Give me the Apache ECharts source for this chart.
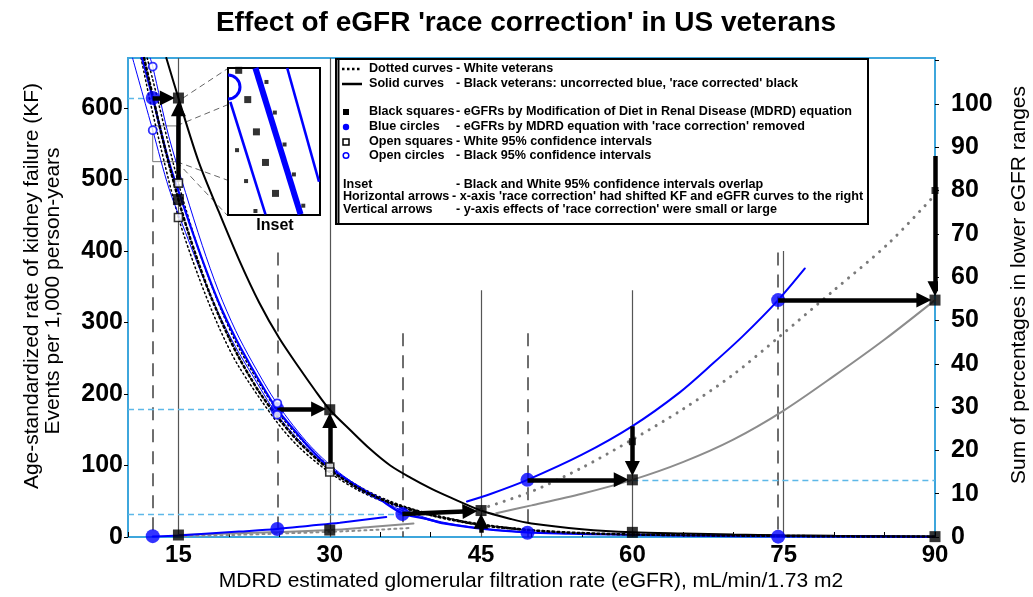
<!DOCTYPE html>
<html><head><meta charset="utf-8">
<script src="https://cdn.jsdelivr.net/npm/echarts@6/dist/echarts.min.js"></script>
<style>html,body{margin:0;padding:0;background:#fff}#c{width:1033px;height:597px}</style>
</head><body><div id="c"></div>
<script>
// ---------- tick labels ----------
const xTickLabels = [15, 30, 45, 60, 75, 90];
const leftTickLabels = [0, 100, 200, 300, 400, 500, 600];
const rightTickLabels = [0, 10, 20, 30, 40, 50, 60, 70, 80, 90, 100];

// ---------- KF rate curves (left axis, events per 1,000 person-years) ----------
const kfBlackCorrected = [[13.8,670],[15,614],[17,525],[19,455],[21,388],[23,328],[25,278],[27,236],[28.5,206],[30,178],[32,150],[34,123],[36,100],[38,83],[40,68],[42,55],[45,37],[48,25],[50,19],[55,11],[60,6.5],[65,4.8],[70,3.5],[75,2.5],[80,1.8],[90,0.8]];
const kfBlueUncorrected = [[11.4,670],[12.45,614],[14.05,525],[15.7,455],[17.36,388],[19,328],[20.66,278],[22.3,236],[23.55,206],[24.8,178],[26.45,150],[28.1,123],[29.75,100],[31.4,83],[33.06,68],[34.7,55],[37.2,33],[39.7,25],[41.3,19],[45.5,11],[49.6,6.5],[53.7,4.8],[57.9,3.5],[62,2.5],[66,1.8],[74.4,0.8],[90,0.2]];
const kfBlueUpperCI = [[12.2,670],[12.45,658],[14.05,560],[15.7,482],[17.36,408],[19,343],[20.66,289],[22.3,245],[24.8,186],[28.1,127],[31.4,85],[34.7,57],[39.7,26],[45.5,11.3],[50,6]];
const kfBlueLowerCI = [[10.45,670],[12.45,569],[14.05,488],[15.7,426],[17.36,366],[19,312],[20.66,266],[22.3,227],[24.8,171],[28.1,119],[31.4,80],[34.7,53],[39.7,24],[45.5,10.7],[50,6]];
const kfWhite = [[11.6,670],[12.45,617],[13.5,553],[15,472],[16,425],[17,383],[18,344],[19,310],[20,279],[21,251],[22,226],[23,203],[24.8,168],[27,132],[30,94],[33,67],[36,48],[40,31],[45,17],[50,9.5],[55,5.5],[60,3.5],[70,2],[80,1],[90,0.5]];
const kfWhiteUpperCI = [[11.9,670],[12.45,640],[15,495],[17,402],[19,326],[21,264],[24.8,176],[27,139],[30,98],[33,70],[36,50],[40,32],[45,18],[50,10]];
const kfWhiteLowerCI = [[11.3,670],[12.45,593],[15,447],[17,364],[19,294],[21,238],[24.8,160],[27,125],[30,90],[33,64],[36,46],[40,30],[45,16],[50,9]];

// ---------- percentage curves (right axis, %) ----------
const pctBlueLow = [[12.45,0.1],[15,0.35],[18,0.8],[21,1.25],[24.8,1.85],[28,2.6],[31,3.3],[35.6,4.6]];
const pctBlueHigh = [[43.6,8.2],[46,10],[49.6,13.2],[55,19],[60,25.6],[64.7,33.4],[68,40.1],[71,46.5],[74.45,54.7],[77.1,62]];
const pctGrayLow = [[15,0.46],[20,0.8],[25,1.15],[30,1.6],[34,2.3],[38.3,3.1]];
const pctGrayHigh = [[46.5,5.5],[50,7.3],[55,10],[60,13.2],[65,17.3],[70,22.5],[75,29.2],[80,37.2],[85,45.6],[90,54.7]];
const pctWhiteLow = [[15,0.2],[20,0.45],[25,0.8],[30,1.2],[35,1.7],[38,2.1]];
const pctWhiteHigh = [[45,6.5],[50,10.5],[55,16],[60,22.5],[65,29.5],[70,37.5],[74.6,46.3],[80,57],[85.4,67.8],[90,79]];

// ---------- markers ----------
const blueCirclesLeft = [[12.45,614],[24.8,179],[37.2,32],[49.6,6],[74.45,0.5]];
const blueCirclesRight = [[12.45,0.2],[24.8,1.85],[49.6,13.2],[74.45,54.7]];
const blackSquaresLeft = [[15,614],[30,178],[45,37],[15,472],[60,6.5],[90,0.5]];
const blackSquaresRight = [[15,0.46],[30,1.6],[60,13.2],[90,54.7]];
const smallSquaresRight = [[60,22],[90,80]];
const openSquaresLeft = [[15,495],[15,447],[30,98],[30,91]];
const openCirclesLeft = [[12.45,658],[12.45,569],[24.8,187],[24.8,171]];

// ---------- arrows ----------
const hArrowsLeft = [[[12.45,614],[13.9,614]],[[24.8,179],[28.9,179]],[[37.2,32],[43.9,36]]];
const vArrowsLeft = [[[15,497],[15,599]],[[30,98],[30,163]],[[45,6],[45,22]]];
const hArrowsRight = [[[49.6,13.2],[58.9,13.2]],[[74.45,54.7],[88.9,54.7]]];
const vArrowsRight = [[[60,25.6],[60,15.8]],[[90,88],[90,57.3]]];

// ---------- reference lines ----------
const cyanLeft = [[[10,614],[12.45,614]],[[10,179],[24.8,179]],[[10,32],[37.2,32]]];
const cyanRight = [[[60,13.2],[90,13.2]]];
const dashedVerticals = [[[12.45,520],[12.45,0]],[[24.8,398],[24.8,0]],[[37.2,285],[37.2,0]],[[49.6,285],[49.6,0]],[[74.45,398],[74.45,0]]];
const solidVerticals = [[[15,670],[15,0]],[[30,670],[30,0]],[[45,345],[45,0]],[[60,345],[60,0]],[[75,400],[75,0]]];
const insetFrame = [[12.45,575],[14.83,575],[14.83,525],[12.45,525],[12.45,575]];

// ---------- inset (magnified view, inset units) ----------
const insetThinBlue1 = [[7,102],[112,440]];
const insetThickBlue = [[82,0],[217,440]];
const insetThinBlue2 = [[177,0],[272,342]];
const insetBigDots = [[32,7],[59,95],[85,192],[112,284],[142,377]];
const insetSmallDots = [[27,247],[54,340],[82,430],[115,42],[140,134],[169,230],[197,320],[225,414]];
const insetOpenCircle = [[0,57]];

// ---------- legend text ----------
const legendRows = [
  ['Dotted curves', '- White veterans'],
  ['Solid curves', "- Black veterans: uncorrected blue, 'race corrected' black"],
  ['Black squares', '- eGFRs by Modification of Diet in Renal Disease (MDRD) equation'],
  ['Blue circles', "- eGFRs by MDRD equation with 'race correction' removed"],
  ['Open squares', '- White 95% confidence intervals'],
  ['Open circles', '- Black 95% confidence intervals'],
  ['Inset', '- Black and White 95% confidence intervals overlap'],
  ['Horizontal arrows', "- x-axis 'race correction' had shifted KF and eGFR curves to the right"],
  ['Vertical arrows', "- y-axis effects of 'race correction' were small or large"]
];

const FONT = '"Liberation Sans", Arial, Helvetica, sans-serif';
const BLUE = '#0000ff';
const CYAN = '#3ea6dc';

function curve(data, yIdx, color, width, type, z) {
  return {type:'line', xAxisIndex:0, yAxisIndex:yIdx, data:data, showSymbol:false, symbol:'none',
    smooth:0.3, lineStyle:{color:color, width:width, type:type||'solid', cap:'round'},
    z:z||3, silent:true, animation:false, clip:true};
}
function segs(list, yIdx, style, extra) {
  return Object.assign({type:'lines', coordinateSystem:'cartesian2d', xAxisIndex:0, yAxisIndex:yIdx,
    data:list.map(c => ({coords:c})), lineStyle:style, silent:true, animation:false, z:2}, extra || {});
}
function marks(data, yIdx, symbol, size, itemStyle, z, xi) {
  return {type:'scatter', xAxisIndex:xi||0, yAxisIndex:yIdx, data:data, symbol:symbol, symbolSize:size,
    itemStyle:itemStyle, z:z||6, silent:true, animation:false, clip:true};
}
function arrows(list, yIdx) {
  return segs(list, yIdx, {color:'#000', width:4.5, opacity:1}, {symbol:['none','triangle'], symbolSize:[1,15], z:7});
}

const series = [
  segs(dashedVerticals, 0, {color:'#4a4a4a', width:1.6, type:[13,9], opacity:1}),
  segs(solidVerticals, 0, {color:'#555', width:1.2, opacity:1}),
  segs(cyanLeft, 0, {color:'#5db8e8', width:1.3, type:[6,4], opacity:1}),
  segs(cyanRight, 1, {color:'#5db8e8', width:1.3, type:[6,4], opacity:1}),
  {type:'lines', coordinateSystem:'cartesian2d', xAxisIndex:0, yAxisIndex:0, polyline:true,
    data:[{coords:insetFrame}], lineStyle:{color:'#777', width:1, opacity:1}, silent:true, animation:false, z:2},
  curve(kfBlackCorrected, 0, '#000', 2),
  curve(kfWhiteUpperCI, 0, '#000', 1.5, [1.5,3]),
  curve(kfWhiteLowerCI, 0, '#000', 1.5, [1.5,3]),
  curve(kfBlueUpperCI, 0, BLUE, 1),
  curve(kfBlueLowerCI, 0, BLUE, 1),
  curve(kfBlueUncorrected, 0, BLUE, 2.2),
  curve(kfWhite, 0, '#000', 2.5, [2,3]),
  curve(pctGrayLow, 1, '#8c8c8c', 2),
  curve(pctWhiteLow, 1, '#8c8c8c', 2, [2,4]),
  curve(pctBlueLow, 1, BLUE, 2),
  curve(pctGrayHigh, 1, '#8c8c8c', 2),
  curve(pctWhiteHigh, 1, '#7a7a7a', 3, [0.1,8]),
  curve(pctBlueHigh, 1, BLUE, 2),
  arrows(hArrowsLeft, 0),
  arrows(vArrowsLeft, 0),
  arrows(hArrowsRight, 1),
  arrows(vArrowsRight, 1),
  marks(blueCirclesLeft, 0, 'circle', 14, {color:BLUE}),
  marks(blueCirclesRight, 1, 'circle', 14, {color:BLUE}),
  marks(blackSquaresLeft, 0, 'rect', 11, {color:'#000'}),
  marks(blackSquaresRight, 1, 'rect', 11, {color:'#000'}),
  marks(smallSquaresRight, 1, 'rect', 7, {color:'#000'}),
  marks(openSquaresLeft, 0, 'rect', 8, {color:'#fff', borderColor:'#000', borderWidth:1.6}, 8),
  marks(openCirclesLeft, 0, 'circle', 8, {color:'#fff', borderColor:BLUE, borderWidth:1.8}, 8),
  // inset
  {type:'line', xAxisIndex:1, yAxisIndex:2, data:insetThinBlue1, showSymbol:false, symbol:'none', lineStyle:{color:BLUE, width:2.6}, silent:true, animation:false, z:20},
  {type:'line', xAxisIndex:1, yAxisIndex:2, data:insetThickBlue, showSymbol:false, symbol:'none', lineStyle:{color:BLUE, width:6}, silent:true, animation:false, z:20},
  {type:'line', xAxisIndex:1, yAxisIndex:2, data:insetThinBlue2, showSymbol:false, symbol:'none', lineStyle:{color:BLUE, width:2.6}, silent:true, animation:false, z:20},
  marks(insetBigDots, 2, 'rect', 7, {color:'#000'}, 21, 1),
  marks(insetSmallDots, 2, 'rect', 4, {color:'#000'}, 21, 1),
  {type:'custom', coordinateSystem:'cartesian2d', xAxisIndex:1, yAxisIndex:2, data:insetOpenCircle, silent:true, animation:false, z:21,
    renderItem:function(params, api){
      const c = api.coord([api.value(0), api.value(1)]);
      return {type:'arc', shape:{cx:c[0], cy:c[1], r:12, startAngle:-Math.PI/2, endAngle:Math.PI/2, clockwise:true},
        style:{stroke:BLUE, lineWidth:3, fill:null}};
    }}
];

// legend graphic
const legendChildren = [
  {type:'rect', shape:{x:336, y:59, width:532, height:165}, style:{fill:'#fff', stroke:'#000', lineWidth:2}},
  {type:'line', shape:{x1:338.5, y1:59, x2:338.5, y2:224}, style:{stroke:'#000', lineWidth:2}},
  {type:'line', shape:{x1:342, y1:69, x2:362, y2:69}, style:{stroke:'#000', lineWidth:2.5, lineDash:[2.5,2.5]}},
  {type:'line', shape:{x1:342, y1:84, x2:362, y2:84}, style:{stroke:'#000', lineWidth:2.5}},
  {type:'rect', shape:{x:343, y:109, width:6, height:6}, style:{fill:'#000'}},
  {type:'circle', shape:{cx:346, cy:127, r:3.2}, style:{fill:BLUE}},
  {type:'rect', shape:{x:343, y:139, width:6, height:6}, style:{fill:'#fff', stroke:'#000', lineWidth:1.5}},
  {type:'circle', shape:{cx:346, cy:155.5, r:2.8}, style:{fill:'#fff', stroke:BLUE, lineWidth:1.5}}
];
const rowY = [69, 84, 112, 127, 142, 156, 184.5, 197, 210];
legendRows.forEach((r, i) => {
  const x1 = i < 6 ? 369 : 343;
  const x2 = i === 7 ? 452 : 456;
  const fs = 12.6;
  legendChildren.push({type:'text', style:{text:r[0], x:x1, y:rowY[i], fill:'#000', font:'bold ' + fs + 'px ' + FONT, textVerticalAlign:'middle', verticalAlign:'middle'}});
  legendChildren.push({type:'text', style:{text:r[1], x:x2, y:rowY[i], fill:'#000', font:'bold ' + fs + 'px ' + FONT, textVerticalAlign:'middle', verticalAlign:'middle'}});
});

const option = {
  animation:false,
  backgroundColor:'#fff',
  grid:[
    {left:128, top:58, width:807, height:479, show:true, borderColor:CYAN, borderWidth:2, backgroundColor:'#fff'},
    {left:228, top:68, width:92, height:147, show:true, borderColor:'#000', borderWidth:2, backgroundColor:'#fff', z:10}
  ],
  xAxis:[
    {type:'value', gridIndex:0, min:10, max:90, interval:5,
      axisLine:{show:true, onZero:false, lineStyle:{color:CYAN, width:2}},
      axisTick:{show:true, inside:true, length:5, lineStyle:{color:'#000', width:1}},
      splitLine:{show:false},
      axisLabel:{formatter:v => xTickLabels.includes(v) ? String(v) : '', color:'#000', fontSize:24, fontWeight:'bold', fontFamily:FONT, margin:6}},
    {type:'value', gridIndex:1, min:0, max:275, show:false, splitLine:{show:false}}
  ],
  yAxis:[
    {type:'value', gridIndex:0, position:'left', min:0, max:670, interval:100,
      axisLine:{show:true, lineStyle:{color:CYAN, width:2}},
      axisTick:{show:true, inside:false, length:4, lineStyle:{color:'#000'}},
      splitLine:{show:false},
      axisLabel:{formatter:v => leftTickLabels.includes(v) ? String(v) : '', showMaxLabel:false, color:'#000', fontSize:25, fontWeight:'bold', fontFamily:FONT, margin:5}},
    {type:'value', gridIndex:0, position:'right', min:0, max:110.6, interval:10,
      axisLine:{show:true, lineStyle:{color:CYAN, width:2}},
      axisTick:{show:true, inside:false, length:4, lineStyle:{color:'#000'}},
      splitLine:{show:false},
      axisLabel:{formatter:v => rightTickLabels.includes(v) ? String(v) : '', showMaxLabel:false, color:'#000', fontSize:25, fontWeight:'bold', fontFamily:FONT, margin:16}},
    {type:'value', gridIndex:1, min:0, max:442, inverse:true, show:false, splitLine:{show:false}}
  ],
  graphic:[
    {type:'text', x:526, y:23, style:{text:"Effect of eGFR 'race correction' in US veterans", fill:'#000', font:'bold 28px ' + FONT, textAlign:'center', textVerticalAlign:'middle', align:'center', verticalAlign:'middle'}},
    {type:'text', x:32, y:286, rotation:Math.PI/2, style:{text:'Age-standardized rate of kidney failure (KF)', fill:'#000', font:'21px ' + FONT, align:'center', verticalAlign:'middle', textAlign:'center', textVerticalAlign:'middle'}},
    {type:'text', x:53, y:291, rotation:Math.PI/2, style:{text:'Events per 1,000 person-years', fill:'#000', font:'21px ' + FONT, align:'center', verticalAlign:'middle', textAlign:'center', textVerticalAlign:'middle'}},
    {type:'text', x:1019, y:285, rotation:Math.PI/2, style:{text:'Sum of percentages in lower eGFR ranges', fill:'#000', font:'21px ' + FONT, align:'center', verticalAlign:'middle', textAlign:'center', textVerticalAlign:'middle'}},
    {type:'text', x:531, y:581, style:{text:'MDRD estimated glomerular filtration rate (eGFR), mL/min/1.73 m2', fill:'#000', font:'21px ' + FONT, align:'center', verticalAlign:'middle', textAlign:'center', textVerticalAlign:'middle'}},
    {type:'text', x:275, y:226, z:50, style:{text:'Inset', fill:'#000', font:'bold 16px ' + FONT, align:'center', verticalAlign:'middle', textAlign:'center', textVerticalAlign:'middle'}},
    {type:'line', z:1, shape:{x1:183, y1:98, x2:227, y2:69}, style:{stroke:'#666', lineWidth:1, lineDash:[6,4]}},
    {type:'line', z:1, shape:{x1:176.7, y1:125.7, x2:227, y2:105}, style:{stroke:'#666', lineWidth:1, lineDash:[6,4]}},
    {type:'line', z:1, shape:{x1:176.7, y1:161.7, x2:227, y2:180}, style:{stroke:'#666', lineWidth:1, lineDash:[6,4]}},
    {type:'line', z:1, shape:{x1:176.7, y1:161.7, x2:227, y2:215}, style:{stroke:'#666', lineWidth:1, lineDash:[6,4]}},
    {type:'group', z:100, children:legendChildren}
  ],
  series:series
};
const chart = echarts.init(document.getElementById('c'));
chart.setOption(option);
</script>
</body></html>
